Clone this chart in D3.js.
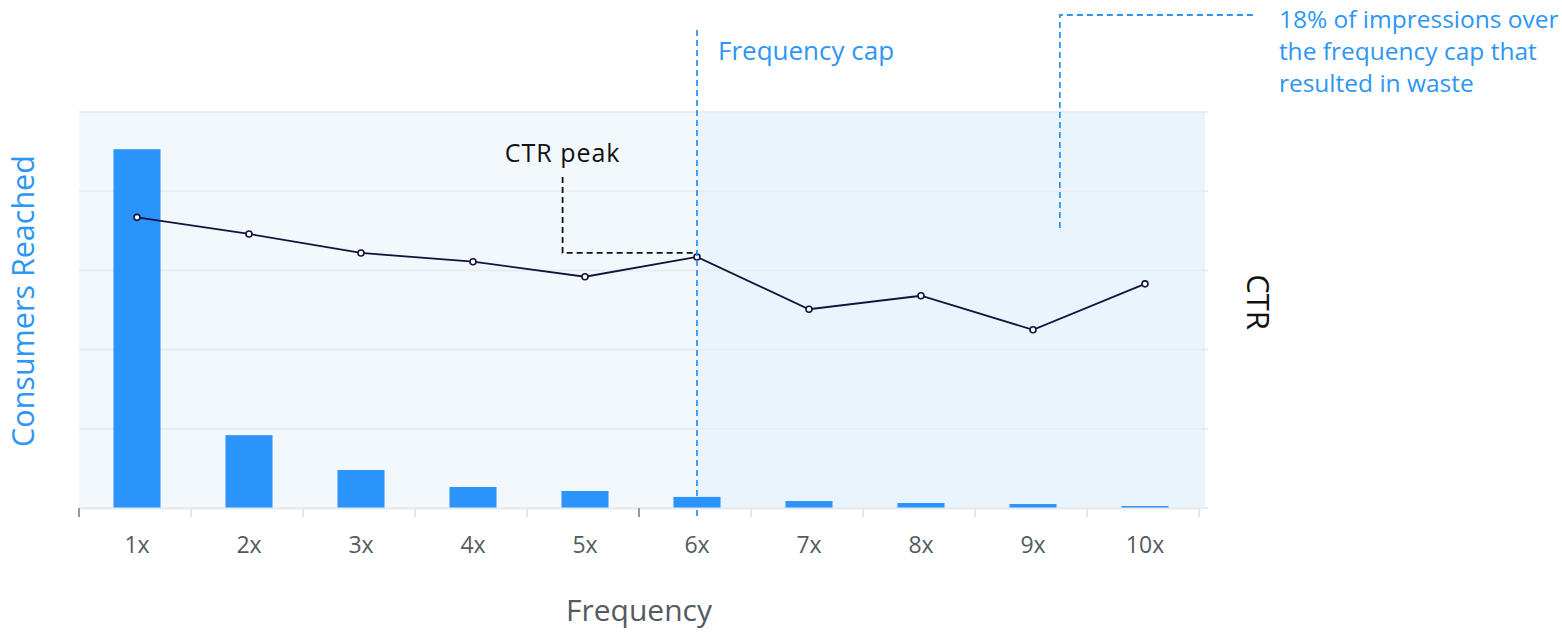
<!DOCTYPE html>
<html>
<head>
<meta charset="utf-8">
<script src="https://cdn.jsdelivr.net/npm/d3@7"></script>
<style>
  body { margin: 0; background: #fff; }
  text { font-family: "Open Sans", Lato, sans-serif; }
</style>
</head>
<body>
<div id="chart"></div>
<script>
// data
const categories = ["1x", "2x", "3x", "4x", "5x", "6x", "7x", "8x", "9x", "10x"];
const consumers = [4530, 920, 480, 265, 215, 140, 88, 63, 50, 25];
const ctr = [3.67, 3.46, 3.22, 3.11, 2.92, 3.17, 2.51, 2.68, 2.25, 2.83];
const consumerTicks = [0, 1000, 2000, 3000, 4000, 5000];
const capCategory = "6x";
const wasteText = ["18% of impressions over", "the frequency cap that", "resulted in waste"];

const width = 1562, height = 632;
const margin = {top: 112, right: 357, bottom: 124, left: 79};
const visWidth = width - margin.left - margin.right - 6;
const visHeight = height - margin.top - margin.bottom;

const blue = "#2d96f5";
const navy = "#14123f";
const grey = "#555a5f";

const svg = d3.select("#chart").append("svg")
    .attr("width", width)
    .attr("height", height);

const g = svg.append("g")
    .attr("transform", `translate(${margin.left}, ${margin.top})`);

const x = d3.scaleBand()
    .domain(categories)
    .range([2, visWidth + 2])
    .padding(0);

const y = d3.scaleLinear()
    .domain([0, 5000])
    .range([visHeight, 0]);

const yCtr = d3.scaleLinear()
    .domain([0, 5])
    .range([visHeight, 0]);

// backgrounds
g.append("rect")
    .attr("x", 0).attr("y", 0)
    .attr("width", visWidth + 6).attr("height", visHeight)
    .attr("fill", "#f3f8fd");

const capX = x(capCategory) + x.bandwidth() / 2;
g.append("rect")
    .attr("x", capX).attr("y", 0)
    .attr("width", visWidth + 6 - capX).attr("height", visHeight)
    .attr("fill", "#eaf4fd");

// gridlines
g.append("g")
    .selectAll("line")
    .data(consumerTicks)
    .join("line")
    .attr("x1", 0)
    .attr("x2", visWidth + 9)
    .attr("y1", d => y(d))
    .attr("y2", d => y(d))
    .attr("stroke", "#e9edf1")
    .attr("stroke-width", 2);

// bars
const barW = x.bandwidth() * 0.42;
g.append("g")
    .selectAll("rect")
    .data(categories)
    .join("rect")
    .attr("x", (d) => x(d) + (x.bandwidth() - barW) / 2)
    .attr("y", (d, i) => y(consumers[i]))
    .attr("width", barW)
    .attr("height", (d, i) => visHeight - y(consumers[i]))
    .attr("fill", "#2a94fb");

// x axis
const xAxis = g.append("g")
    .attr("transform", `translate(0, ${visHeight})`)
    .call(d3.axisBottom(x).tickSize(0).tickPadding(29));
xAxis.select(".domain")
    .attr("stroke", "#e6e9ec")
    .attr("stroke-width", 2);
xAxis.selectAll("text")
    .attr("font-size", "23px")
    .attr("fill", grey)
    .style("font-family", "'Open Sans', sans-serif");

const boundaries = categories.map(d => x(d) - 2).concat([visWidth]);
g.append("g")
    .selectAll("line")
    .data(boundaries)
    .join("line")
    .attr("x1", d => d)
    .attr("x2", d => d)
    .attr("y1", visHeight)
    .attr("y2", visHeight + 9)
    .attr("stroke", (d, i) => (i === 0 || i === 5) ? "#999" : "#e6e9ec")
    .attr("stroke-width", 2);

// CTR line
const line = d3.line()
    .x((d, i) => x(categories[i]) + x.bandwidth() / 2)
    .y(d => yCtr(d));

g.append("path")
    .datum(ctr)
    .attr("d", line)
    .attr("fill", "none")
    .attr("stroke", navy)
    .attr("stroke-width", 1.8);

g.append("g")
    .selectAll("circle")
    .data(ctr)
    .join("circle")
    .attr("cx", (d, i) => x(categories[i]) + x.bandwidth() / 2)
    .attr("cy", d => yCtr(d))
    .attr("r", 3)
    .attr("fill", "#fff")
    .attr("stroke", navy)
    .attr("stroke-width", 1.6);

// frequency cap line
g.append("line")
    .attr("x1", capX).attr("x2", capX)
    .attr("y1", -82).attr("y2", visHeight + 12)
    .attr("stroke", blue)
    .attr("stroke-width", 1.8)
    .attr("stroke-dasharray", "6,4");

g.append("text")
    .text("Frequency cap")
    .attr("x", capX + 21)
    .attr("y", -52)
    .attr("font-size", "26px")
    .attr("fill", blue);

// CTR peak annotation
const peakY = yCtr(ctr[5]) - 4;
const peakTextX = x("5x") + x.bandwidth() * 0.3;
g.append("path")
    .attr("d", `M${peakTextX},65 V${peakY} H${capX}`)
    .attr("fill", "none")
    .attr("stroke", "#111")
    .attr("stroke-width", 1.8)
    .attr("stroke-dasharray", "6,4");

g.append("text")
    .text("CTR peak")
    .attr("x", peakTextX)
    .attr("y", 50)
    .attr("text-anchor", "middle")
    .attr("font-size", "25px")
    .attr("letter-spacing", "1px")
    .attr("fill", "#111");

// waste annotation
const wasteX = x("9x") + x.bandwidth() * 0.74;
g.append("path")
    .attr("d", `M${wasteX},116 V-97 H${wasteX + 196}`)
    .attr("fill", "none")
    .attr("stroke", blue)
    .attr("stroke-width", 1.8)
    .attr("stroke-dasharray", "6,4");

g.append("text")
    .attr("y", -84)
    .attr("font-size", "24.5px")
    .attr("fill", blue)
    .selectAll("tspan")
    .data(wasteText)
    .join("tspan")
    .attr("x", wasteX + 219)
    .attr("dy", (d, i) => i === 0 ? 0 : 32)
    .text(d => d);

// axis titles
svg.append("text")
    .text("Consumers Reached")
    .attr("transform", `translate(34, 301) rotate(-90)`)
    .attr("text-anchor", "middle")
    .attr("font-size", "30.5px")
    .attr("fill", blue);

svg.append("text")
    .text("CTR")
    .attr("transform", `translate(1247, 302) rotate(90)`)
    .attr("text-anchor", "middle")
    .attr("font-size", "31px")
    .attr("fill", "#111");

svg.append("text")
    .text("Frequency")
    .attr("x", margin.left + visWidth / 2)
    .attr("y", 621)
    .attr("text-anchor", "middle")
    .attr("font-size", "30px")
    .attr("fill", grey);
</script>
</body>
</html>
